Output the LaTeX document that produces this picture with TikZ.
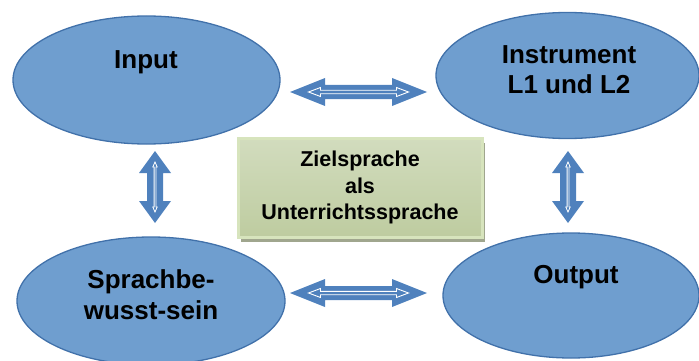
\documentclass[tikz,border=0pt]{standalone}
\usepackage{fontspec}
\setmainfont{Liberation Sans}
\usetikzlibrary{shapes.geometric,shadows}
\definecolor{ellfill}{RGB}{111,158,207}
\definecolor{elldraw}{RGB}{65,113,170}
\definecolor{arrblue}{RGB}{79,129,189}
\definecolor{boxtop}{RGB}{210,220,190}
\definecolor{boxbot}{RGB}{190,204,160}
\definecolor{boxline}{RGB}{215,228,189}
\definecolor{boxshadow}{RGB}{160,166,142}
\begin{document}
\begin{tikzpicture}[x=1pt,y=-1pt,
  ell/.style={ellipse, fill=ellfill, draw=elldraw, line width=1.3pt, inner sep=0pt},
  elltext/.style={font=\fontsize{26}{31}\selectfont\bfseries, align=center, anchor=base, inner sep=0pt},
  zielbox/.style={rectangle, draw=boxline, line width=3pt, top color=boxtop, bottom color=boxbot,
    drop shadow={shadow xshift=3pt, shadow yshift=-5pt, fill=boxshadow, opacity=1},
    minimum width=244pt, minimum height=99pt, inner sep=0pt,
    font=\fontsize{21.5}{26.5}\selectfont\bfseries, align=center},
  hdarrow/.pic={
    \fill[arrblue] (-68.5,0) -- (-33.5,-14) -- (-33.5,-7) -- (33.5,-7) -- (33.5,-14) -- (68.5,0)
      -- (33.5,14) -- (33.5,7) -- (-33.5,7) -- (-33.5,14) -- cycle;
    \draw[white, line width=0.9pt, line join=miter] (-50,0) -- (-38,-4.5) -- (-38,-1.7) -- (38,-1.7) -- (38,-4.5) -- (50,0)
      -- (38,4.5) -- (38,1.7) -- (-38,1.7) -- (-38,4.5) -- cycle;
  },
  vdarrow/.pic={
    \fill[arrblue] (0,-36) -- (16,-14) -- (8,-14) -- (8,14) -- (16,14) -- (0,36)
      -- (-16,14) -- (-8,14) -- (-8,-14) -- (-16,-14) -- cycle;
    \draw[white, line width=0.8pt, line join=miter] (0,-25) -- (2.2,-20) -- (0.9,-20) -- (0.9,20) -- (2.2,20) -- (0,25)
      -- (-2.2,20) -- (-0.9,20) -- (-0.9,-20) -- (-2.2,-20) -- cycle;
  }]
\useasboundingbox (0,0) rectangle (699,361);
\clip (0,0) rectangle (699,361);
% ellipses
\node[ell, minimum width=267pt, minimum height=128pt] (input) at (146.5,80) {};
\node[ell, minimum width=263pt, minimum height=126pt] (instr) at (567.5,75.5) {};
\node[ell, minimum width=268pt, minimum height=128pt] (sprach) at (151,301) {};
\node[ell, minimum width=256pt, minimum height=125pt] (output) at (571,295.5) {};
% labels
\node[elltext] (inputtext) at (146,69) {Input};
\node[elltext] (instrtext) at (569,94) {Instrument\\L1 und L2};
\node[elltext] (sprachtext) at (151,319) {Sprachbe-\\wusst-sein};
\node[elltext] (outputtext) at (576,283) {Output};
% centre box
\node[zielbox] (ziel) at (360,187.5) {Zielsprache\\als\\Unterrichtssprache};
% arrows
\pic at (358.5,92) {hdarrow};
\pic at (358.5,293) {hdarrow};
\pic at (155,187) {vdarrow};
\pic at (568,187) {vdarrow};
\end{tikzpicture}
\end{document}
